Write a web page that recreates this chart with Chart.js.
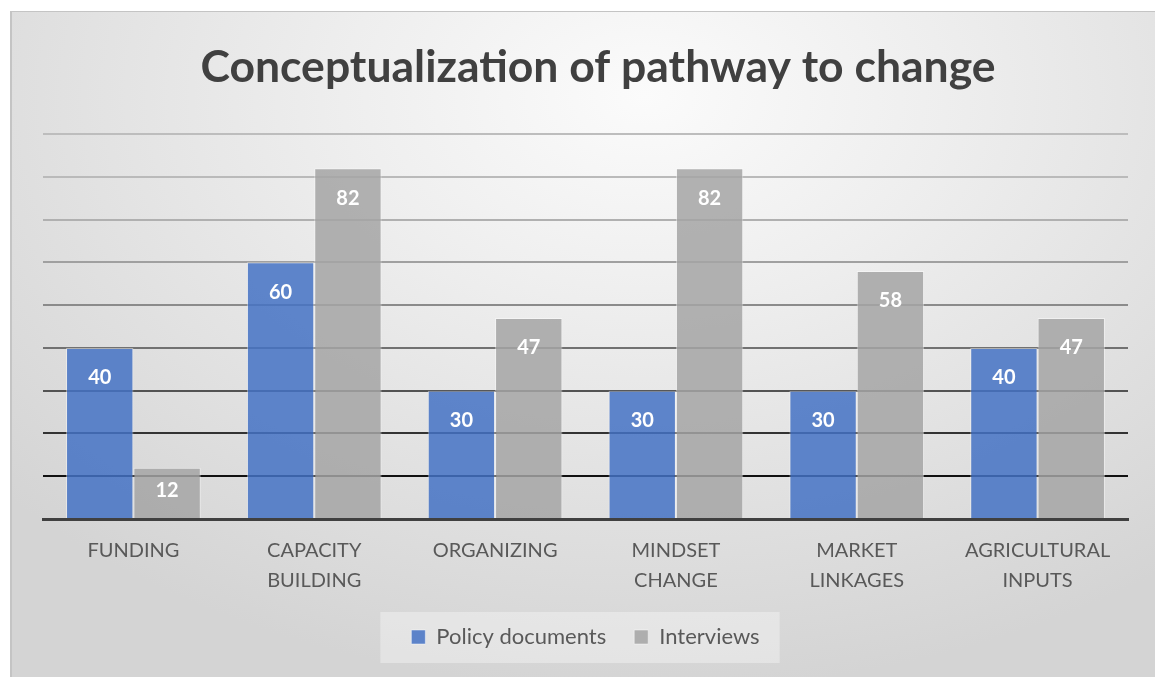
<!DOCTYPE html>
<html lang="en">
<head>
    <meta charset="UTF-8">
    <title>Conceptualization of pathway to change</title>
    <script src="https://cdn.jsdelivr.net/npm/chart.js"></script>
    <style>
        html, body {
            margin: 0;
            padding: 0;
            width: 1155px;
            height: 677px;
            overflow: hidden;
            background: #ffffff;
        }
        .frame {
            position: absolute;
            left: 10px;
            top: 11px;
            width: 1150px;
            height: 700px;
            border: 1px solid #c4c4c4;
            border-left-width: 2px;
            background: radial-gradient(ellipse 75% 85% at 55% 12%, #fbfbfb 0%, #eeeeee 35%, #e2e2e2 65%, #d4d4d4 100%);
        }
        .wrap {
            position: absolute;
            left: 0;
            top: 0;
            width: 1155px;
            height: 677px;
        }
    </style>
</head>
<body>
<div class="frame"></div>
<div class="wrap"><canvas id="chart"></canvas></div>

<script>
    // data
    const categories = [['FUNDING'], ['CAPACITY', 'BUILDING'], ['ORGANIZING'], ['MINDSET', 'CHANGE'], ['MARKET', 'LINKAGES'], ['AGRICULTURAL', 'INPUTS']];
    const policyDocuments = [40, 60, 30, 30, 30, 40];
    const interviews = [12, 82, 47, 82, 58, 47];
    const yTicks = [0, 10, 20, 30, 40, 50, 60, 70, 80, 90];
    const chartTitle = 'Conceptualization of pathway to change';

    const FONT = 'Lato, "Open Sans", sans-serif';

    // title sits a little right of the plot centre, as in the original
    const titlePlugin = {
        id: 'titlePlugin',
        afterDraw(chart) {
            const ctx = chart.ctx;
            ctx.save();
            ctx.font = 'bold 44.5px ' + FONT;
            ctx.fillStyle = '#404040';
            ctx.textAlign = 'center';
            ctx.textBaseline = 'alphabetic';
            ctx.fillText(chartTitle, 598, 82);
            ctx.restore();
        }
    };

    // white value labels just inside the top of each bar
    const valueLabels = {
        id: 'valueLabels',
        afterDatasetsDraw(chart) {
            const ctx = chart.ctx;
            ctx.save();
            ctx.font = 'bold 20px ' + FONT;
            ctx.fillStyle = '#ffffff';
            ctx.textAlign = 'center';
            ctx.textBaseline = 'middle';
            chart.data.datasets.forEach((ds, i) => {
                chart.getDatasetMeta(i).data.forEach((bar, j) => {
                    const h = bar.base - bar.y;
                    const off = Math.min(30, h * 0.45);
                    ctx.fillText(ds.data[j], bar.x, bar.y + off);
                });
            });
            ctx.restore();
        }
    };

    // lighter box behind the legend
    const legendBox = {
        id: 'legendBox',
        beforeDraw(chart) {
            const boxes = chart.legend && chart.legend.legendHitBoxes;
            if (!boxes || !boxes.length) return;
            const left = Math.min(...boxes.map(b => b.left)) - 31;
            const right = Math.max(...boxes.map(b => b.left + b.width)) + 20;
            const mid = boxes[0].top + boxes[0].height / 2;
            const ctx = chart.ctx;
            ctx.save();
            ctx.fillStyle = 'rgba(255,255,255,0.35)';
            ctx.fillRect(left, mid - 25, right - left, 51);
            ctx.restore();
        }
    };

    function gridShade(v) {
        if (v === 0) return 'rgba(0,0,0,0)';
        const g = Math.round(17 + 172 * Math.sin(Math.PI / 2 * (v - 10) / 80));
        return 'rgb(' + g + ',' + g + ',' + g + ')';
    }

    new Chart(document.getElementById('chart'), {
        type: 'bar',
        data: {
            labels: categories,
            datasets: [
                {
                    label: 'Policy documents',
                    data: policyDocuments,
                    backgroundColor: 'rgba(68,114,196,0.85)',
                    borderColor: 'rgba(255,255,255,0.45)',
                    borderWidth: 1
                },
                {
                    label: 'Interviews',
                    data: interviews,
                    backgroundColor: 'rgba(165,165,165,0.85)',
                    borderColor: 'rgba(255,255,255,0.45)',
                    borderWidth: 1
                }
            ]
        },
        options: {
            responsive: true,
            maintainAspectRatio: false,
            animation: false,
            layout: {
                padding: { left: 43, right: 27, top: 134, bottom: 19 }
            },
            datasets: {
                bar: { categoryPercentage: 0.745, barPercentage: 1 }
            },
            plugins: {
                title: { display: false },
                legend: {
                    position: 'bottom',
                    labels: {
                        color: '#595959',
                        font: { family: FONT, size: 22 },
                        boxWidth: 14,
                        boxHeight: 14,
                        padding: 28
                    }
                },
                tooltip: { enabled: false }
            },
            scales: {
                x: {
                    grid: { display: false, drawTicks: false },
                    border: { display: true, color: '#404040', width: 3 },
                    ticks: {
                        color: '#595959',
                        font: { family: FONT, size: 20, lineHeight: 1.5 },
                        padding: 17,
                        maxRotation: 0,
                        autoSkip: false
                    },
                    afterFit(scale) { scale.height = 79; }
                },
                y: {
                    min: yTicks[0],
                    max: yTicks[yTicks.length - 1],
                    afterBuildTicks(scale) { scale.ticks = yTicks.map(v => ({ value: v })); },
                    ticks: { display: false },
                    border: { display: false },
                    grid: {
                        drawTicks: false,
                        lineWidth: 2,
                        color: ctx => gridShade(ctx.tick.value)
                    }
                }
            }
        },
        plugins: [legendBox, valueLabels, titlePlugin]
    });
</script>
</body>
</html>
